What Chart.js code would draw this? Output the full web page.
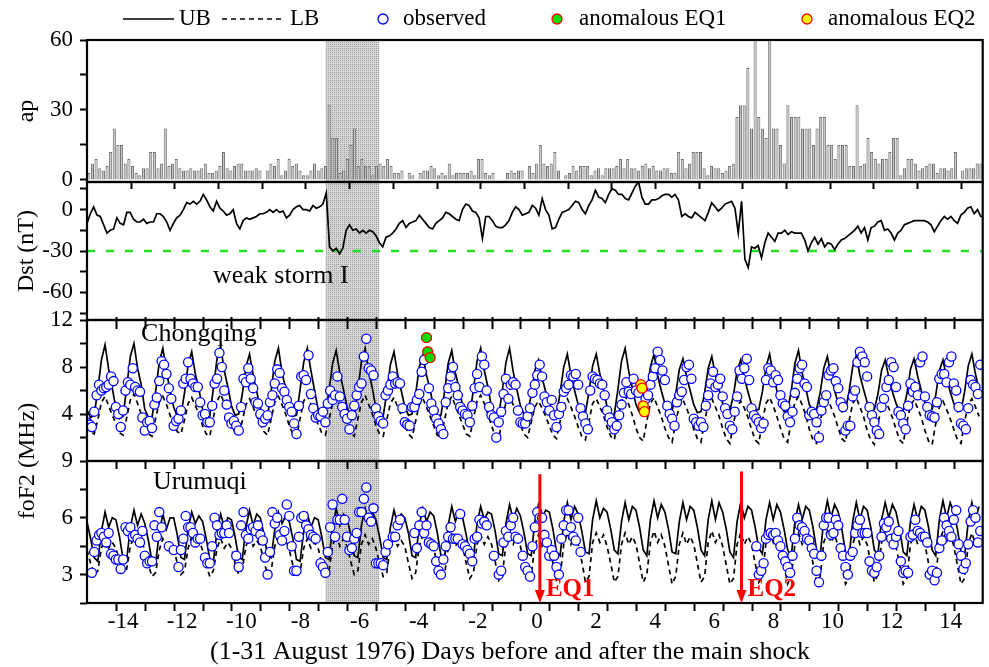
<!DOCTYPE html>
<html>
<head>
<meta charset="utf-8">
<title>foF2 around the 1976 Songpan earthquakes</title>
<script src="https://cdn.jsdelivr.net/npm/chart.js@4.4.1/dist/chart.umd.min.js"></script>
<style>
  html, body { margin: 0; padding: 0; background: #fff; }
  #wrap { width: 989px; height: 667px; }
</style>
</head>
<body>
<div id="wrap"><canvas id="chart" width="989" height="667"></canvas></div>
<script>
const SERIF = "'Liberation Serif', 'Times New Roman', serif";

// time axis: days relative to the main shock
const dayTicks = [-14, -12, -10, -8, -6, -4, -2, 0, 2, 4, 6, 8, 10, 12, 14];
const X_MIN = -15.22, X_MAX = 15.08;
const HOURS = 744; // 1-31 August, hourly index
const stormBand = [-7.15, -5.33];
const quakeDays = [0.1, 6.92];

// ap index, 3-hourly
const apIndex = [
  3,7,9,5,4,6,12,22,15,15, 7,9,6,3,2,5,5,12,12,5, 7,22,6,7,9,5,4,4,5,4,
  4,5,7,3,3,4,6,12,5,4, 6,7,7,4,4,4,5,4,0,4, 7,6,9,2,4,9,6,7,4,2,
  2,4,7,4,5,6,32,18,18,3, 4,9,15,22,6,9,6,6,2,6, 7,6,9,
  6,3,3,4,0,3,2,0,3,4, 4,6,5,2,3,2,7,2,3,3, 3,3,4,2,9,9,3,2,3,0,
  0,0,3,4,3,4,4,0,6,3, 7,15,7,6,7,12,4,0,2,3, 6,4,6,6,6,2,4,5,2,5,
  5,5,6,9,5,9,5,5,4,6, 7,5,6,4,4,5,5,3,3,
  12,9,5,7,12,12,12,5,2,6, 5,5,3,4,6,7,27,32,32,48, 22,67,27,22,18,67,22,22,15,7,
  32,27,27,27,22,22,22,15,22,27, 27,15,15,9,15,15,15,6,6,32, 6,7,18,12,9,7,9,9,12,18,
  18,2,5,9,9,7,4,5,6,7, 7,3,5,5,4,5,12,0,4,5, 5,5,7,7
];

// Dst (nT), one sample every 2.76 h
const DST_STEP_H = 2.76;
const dstNt = [
  -10,-3,2,-4,-5,-11,-17,-15,-14,-6, -10,-11,-2,-2,-7,-9,-9,-7,-10,-9,
  -9,-3,-3,-5,-9,-15,-10,-6,-4,0, 5,4,6,4,6,11,7,2,-1,6,
  1,-1,-4,-3,0,-10,-14,-8,-6,-7, -6,-5,-3,-3,-2,0,-2,0,-2,-1,
  -6,-4,0,2,3,0,0,-1,3,1, 2,4,12,-27,-30,-28,-32,-28,-15,-11,
  -15,-14,-17,-15,-17,-15,-16,-19,-24,-27, -20,
  -19,-17,-14,-10,-8,-13,-10,-9,-8,-4, -7,-10,-13,-14,-10,-8,-6,-2,-3,-5,
  -7,-8,0,4,3,-1,-2,-6,-21,-5, -5,-8,-12,-13,-13,-11,-8,-2,2,0,
  -4,-3,-2,3,1,-4,8,0,-4,-14, -13,-7,-2,-1,0,3,6,5,0,-3,
  3,7,14,9,8,5,11,15,14,11, 11,8,7,12,17,20,9,4,4,7,
  7,8,10,11,11,9,11,7,-5,-3,
  -5,-6,-2,-4,-6,-8,-2,5,2,-1, 1,4,5,6,1,-17,6,-36,-42,-27,
  -28,-26,-35,-24,-17,-20,-23,-17,-17,-15, -18,-16,-17,-17,-17,-22,-30,-24,-20,-25,
  -21,-27,-24,-25,-29,-25,-22,-21,-19,-17, -15,-12,-17,-13,-22,-13,-12,-9,-8,-15,
  -14,-17,-22,-17,-15,-11,-10,-9,-8,-8, -8,-8,-9,-11,-16,-12,-8,-5,-7,-5,
  -8,-10,-4,-2,1,2,-3,0,-5,-5
];
const dstStorm = -30;

// Chongqing foF2 bounds (MHz), 3-hourly: 00 03 06 09 12 15 18 21 h
const cqUpper = [
  4.3,3.7,3.9,6.1,8.6,9.9,7.8,6.2,  4.5,3.6,3.8,6.3,8.9,10.0,7.9,6.5,
  4.4,3.7,3.7,5.9,8.4,9.6,7.6,6.0,  4.6,3.8,3.9,5.8,8.2,9.3,7.4,6.1,
  4.4,3.6,3.8,6.2,8.7,9.8,7.7,6.3,  4.7,3.9,4.0,5.7,8.0,9.1,7.3,5.9,
  4.5,3.7,3.8,6.0,8.5,9.6,7.5,6.2,  4.6,3.8,3.9,6.1,8.4,9.6,7.7,6.0,
  4.4,3.9,4.0,5.9,8.3,9.4,7.5,6.1,  4.6,3.8,3.9,6.0,8.5,9.6,7.6,6.2,
  4.5,3.7,3.8,5.8,8.2,9.3,7.4,6.0,  4.6,3.9,4.0,5.7,8.0,9.0,7.3,6.1,
  4.5,3.8,3.9,5.9,8.3,9.4,7.5,6.2,  4.7,3.9,4.0,6.1,8.5,9.6,7.7,6.3,
  4.6,3.8,3.9,6.0,8.4,9.6,7.6,6.1,  4.7,4.0,4.1,5.6,7.7,8.6,7.1,5.9,
  4.6,3.9,4.0,5.8,8.0,9.1,7.3,6.0,  4.8,4.0,4.1,5.9,8.1,9.1,7.4,6.1,
  4.6,3.9,4.0,6.1,8.5,9.6,7.6,6.2,  4.8,4.1,4.2,5.9,8.0,9.1,7.3,6.0,
  4.9,4.2,4.3,5.7,7.8,8.7,7.2,6.0,  4.8,4.1,4.2,5.8,7.9,8.9,7.3,6.1,
  4.9,4.2,4.3,5.6,7.7,8.6,7.1,5.9,  4.8,4.3,4.4,5.9,8.0,9.1,7.4,6.0,
  4.9,4.2,4.3,6.0,8.3,9.4,7.5,6.2,  4.8,4.3,4.4,5.8,7.9,8.9,7.3,6.0,
  4.9,4.2,4.3,5.9,8.0,9.0,7.3,6.1,  5.0,4.3,4.4,5.7,7.7,8.6,7.1,5.9,
  4.9,4.2,4.3,5.7,7.8,8.7,7.2,6.0,  5.0,4.3,4.4,5.6,7.7,8.6,7.1,5.9,
  4.9,4.2,4.3,5.9,8.1,9.1,7.4,6.1
];
const cqLower = [
  3.0,2.5,2.3,3.5,5.0,5.5,4.7,3.9,  3.2,2.4,2.2,3.7,5.2,5.7,4.9,4.0,
  3.1,2.3,2.1,3.6,5.0,5.5,4.8,3.9,  3.2,2.5,2.3,3.5,4.9,5.4,4.7,4.0,
  3.0,2.3,2.1,3.7,5.1,5.7,4.9,4.1,  3.1,2.4,2.2,3.4,4.8,5.3,4.6,3.8,
  3.2,2.5,2.2,3.6,5.0,5.5,4.8,4.0,  3.0,2.3,2.0,3.6,5.1,5.6,4.8,3.9,
  3.1,2.4,2.2,3.5,4.9,5.4,4.7,3.9,  3.2,2.4,2.1,3.6,5.0,5.6,4.8,4.0,
  3.0,2.3,2.1,3.5,4.9,5.4,4.6,3.9,  3.1,2.3,2.0,3.4,4.8,5.3,4.6,3.8,
  3.0,2.2,2.0,3.5,4.9,5.5,4.7,3.9,  3.1,2.3,2.1,3.6,5.1,5.6,4.9,4.0,
  3.0,2.2,1.9,3.5,5.0,5.5,4.8,3.9,  3.1,2.3,2.0,3.3,4.6,5.1,4.5,3.8,
  3.0,2.2,1.9,3.4,4.8,5.3,4.6,3.8,  2.9,2.1,1.8,3.4,4.9,5.3,4.6,3.9,
  2.9,2.1,1.8,3.6,5.1,5.6,4.8,3.9,  2.8,2.0,1.7,3.4,4.9,5.4,4.6,3.8,
  2.8,2.0,1.6,3.3,4.7,5.2,4.5,3.7,  2.7,1.9,1.6,3.4,4.8,5.3,4.6,3.8,
  2.8,1.9,1.5,3.2,4.6,5.1,4.5,3.7,  2.7,1.8,1.5,3.4,4.9,5.4,4.7,3.8,
  2.8,1.9,1.6,3.5,5.0,5.5,4.8,3.9,  2.7,1.8,1.5,3.3,4.8,5.3,4.6,3.8,
  2.8,1.9,1.6,3.4,4.9,5.4,4.6,3.8,  2.6,1.8,1.4,3.2,4.6,5.1,4.5,3.7,
  2.7,1.8,1.5,3.3,4.7,5.2,4.5,3.7,  2.6,1.7,1.4,3.2,4.6,5.1,4.4,3.6,
  2.7,1.8,1.5,3.4,4.8,5.3,4.6,3.8
];
// Chongqing observed foF2 (MHz), 2-hourly
const cqObserved = [
  3.3,3.1,2.9,4.2,5.6,6.5,6.0,6.2,6.3,6.5,7.2,6.8,
  4.6,4.0,2.9,4.3,6.0,6.7,6.5,7.9,6.3,6.0,5.9,3.7,
  2.6,3.3,3.4,2.8,4.8,5.4,6.8,8.5,8.2,7.4,6.2,5.3,
  3.0,3.4,3.6,4.3,6.6,7.0,8.4,7.0,6.6,6.3,6.3,5.0,
  3.9,4.0,3.3,3.3,4.7,6.6,7.0,9.2,8.0,6.0,4.8,3.7,
  3.2,3.4,3.0,2.6,4.6,7.0,6.7,7.9,7.0,6.2,5.0,4.9,
  4.0,3.3,3.6,3.9,5.0,5.6,6.6,7.8,7.5,6.2,5.9,5.2,
  4.6,4.2,3.2,2.3,4.7,7.2,7.3,6.9,9.0,5.7,4.5,3.7,
  3.9,3.8,4.2,3.3,4.9,6.0,5.2,5.6,7.2,5.5,4.6,4.0,
  3.6,2.7,3.9,4.7,5.6,6.3,6.6,8.9,10.4,7.9,7.7,7.3,
  4.5,3.8,3.4,3.2,5.6,6.0,6.5,7.2,6.6,6.7,6.6,4.5,
  3.3,3.1,3.0,4.6,4.6,5.2,5.7,7.6,8.6,10.5,6.2,4.9,
  4.3,3.6,3.2,2.7,2.3,5.0,6.2,7.2,8.0,6.3,5.6,4.6,
  4.3,4.0,3.9,3.3,4.7,6.2,7.4,6.3,8.9,8.2,6.0,4.6,
  3.9,3.7,2.0,3.3,4.2,5.7,7.0,5.3,6.5,6.7,6.5,4.3,
  3.3,3.2,3.2,3.8,4.5,5.8,6.5,7.3,8.2,7.2,5.5,5.0,
  4.3,5.2,3.9,2.9,4.0,4.6,5.9,6.2,6.5,7.3,7.2,7.4,
  6.5,4.5,3.8,3.2,2.7,6.0,7.2,7.0,6.9,6.6,6.5,5.6,
  4.3,3.7,3.3,2.7,3.0,3.9,4.8,5.8,6.7,5.9,5.7,7.0,
  6.0,5.8,6.5,4.7,5.3,5.6,6.5,7.2,7.9,9.3,8.6,7.7,
  6.9,4.7,4.0,3.6,3.0,5.0,5.6,5.9,6.9,8.0,8.2,7.0,
  3.6,3.3,3.0,3.3,2.9,4.7,5.6,6.6,7.6,6.3,6.5,7.0,
  5.5,4.5,4.0,3.0,2.7,4.2,5.5,7.7,7.0,7.9,8.7,6.9,
  4.5,3.9,3.6,3.3,2.8,3.2,6.9,7.9,7.7,6.7,7.3,6.9,
  5.6,4.9,4.7,3.8,3.3,4.2,5.8,7.0,7.9,8.2,6.6,6.3,
  3.9,4.2,4.0,3.3,2.0,4.3,5.0,5.6,7.3,7.7,7.9,6.8,
  6.2,5.0,4.6,2.6,3.0,3.0,5.5,6.0,8.4,9.3,8.9,8.4,
  7.2,4.6,3.9,3.3,2.6,2.3,4.6,5.3,6.3,6.9,8.4,8.0,
  6.3,4.2,3.9,3.2,2.7,4.7,6.6,5.9,6.3,5.6,8.4,8.9,
  5.5,4.6,3.9,3.8,3.7,5.0,7.0,7.4,7.4,6.7,8.4,8.9,
  6.6,6.0,4.6,3.2,3.0,2.7,4.5,6.9,6.5,6.3,5.7,8.2
];
// Chongqing values flagged as anomalous before each shock (hour index, MHz)
const eq1Hours = [282, 283, 285], eq1Values = [10.5, 9.3, 8.8];
const eq2Hours = [460, 461, 462, 463], eq2Values = [6.5, 6.2, 4.7, 4.2];

// Urumuqi foF2 bounds (MHz), 3-hourly
const urUpper = [
  5.8,4.9,3.9,3.7,5.3,6.3,5.5,6.0,  5.9,5.0,3.8,3.8,5.5,6.4,5.6,6.2,
  5.7,4.8,3.7,3.6,5.2,6.2,5.4,6.0,  6.0,5.1,3.9,3.8,5.4,6.3,5.7,6.1,
  5.8,4.9,3.8,3.7,5.3,6.2,5.5,6.0,  5.9,5.0,3.9,3.8,5.5,6.4,5.6,6.2,
  6.0,5.1,4.0,3.9,5.4,6.3,5.7,6.1,  5.8,4.9,3.8,3.7,5.3,6.2,5.5,6.0,
  5.9,5.0,3.9,3.8,5.5,6.5,5.6,6.2,  6.0,5.1,4.0,3.9,5.6,6.5,5.8,6.3,
  5.9,5.0,3.9,3.8,5.5,6.4,5.7,6.2,  6.0,5.2,4.0,3.9,5.6,6.5,5.8,6.3,
  6.1,5.2,4.0,3.9,5.6,6.6,5.8,6.4,  6.0,5.1,4.0,3.9,5.7,6.6,5.9,6.3,
  6.2,5.3,4.1,4.0,5.7,6.7,5.9,6.5,  6.1,5.2,4.1,4.0,5.8,6.7,6.0,6.4,
  6.3,5.4,4.2,4.0,5.8,6.8,5.9,6.6,  6.2,5.3,4.2,4.1,5.9,6.9,6.0,6.5,
  6.3,5.4,4.3,4.1,5.8,6.8,5.9,6.6,  6.4,5.5,4.3,4.0,5.9,6.9,6.0,6.7,
  6.3,5.4,4.2,4.1,5.8,6.8,5.9,6.6,  6.4,5.5,4.3,4.0,5.9,6.9,5.9,6.8,
  6.3,5.4,4.2,3.9,5.8,6.8,6.0,6.6,  6.4,5.5,4.4,4.1,5.9,6.8,5.9,6.7,
  6.3,5.4,4.3,4.0,5.8,6.7,5.9,6.6,  6.4,5.5,4.3,4.0,5.9,6.9,6.0,6.7,
  6.3,5.4,4.2,3.9,5.8,6.8,5.9,6.6,  6.4,5.5,4.3,4.1,5.9,6.8,6.0,6.7,
  6.3,5.4,4.2,4.0,5.8,6.7,5.9,6.6,  6.4,5.5,4.3,4.0,5.9,6.9,6.0,6.8,
  6.3,5.4,4.2,4.0,5.8,6.8,5.9,6.6
];
const urLower = [
  4.3,3.6,3.0,3.2,4.4,4.9,4.4,4.7,  4.4,3.7,3.1,3.3,4.5,5.0,4.5,4.8,
  4.3,3.5,2.9,3.1,4.3,4.9,4.4,4.7,  4.4,3.6,3.0,3.2,4.4,5.0,4.5,4.8,
  4.3,3.5,2.9,3.2,4.4,4.9,4.4,4.7,  4.4,3.6,3.0,3.3,4.5,5.0,4.5,4.8,
  4.5,3.7,3.0,3.2,4.5,5.1,4.6,4.9,  4.3,3.5,2.9,3.1,4.4,4.9,4.4,4.7,
  4.4,3.6,2.9,3.2,4.5,5.1,4.5,4.9,  4.5,3.7,3.0,3.2,4.6,5.1,4.6,4.9,
  4.4,3.6,2.9,3.1,4.5,5.0,4.5,4.8,  4.5,3.6,2.8,3.1,4.5,5.1,4.6,4.9,
  4.4,3.5,2.8,3.0,4.4,5.0,4.5,4.8,  4.5,3.6,2.8,3.1,4.6,5.1,4.6,5.0,
  4.6,3.7,2.7,3.0,4.6,5.2,4.6,5.0,  4.5,3.6,2.7,3.0,4.5,5.1,4.5,4.9,
  4.6,3.6,2.7,2.9,4.6,5.2,4.6,5.1,  4.6,3.7,2.6,2.9,4.7,5.2,4.7,5.1,
  4.5,3.6,2.6,2.9,4.6,5.2,4.6,5.0,  4.6,3.6,2.6,3.0,4.7,5.3,4.7,5.1,
  4.5,3.5,2.5,2.9,4.6,5.2,4.6,5.0,  4.6,3.6,2.6,2.9,4.7,5.3,4.7,5.1,
  4.5,3.5,2.5,2.8,4.6,5.2,4.6,5.0,  4.6,3.6,2.6,2.9,4.7,5.3,4.7,5.2,
  4.5,3.5,2.5,2.9,4.6,5.2,4.6,5.0,  4.6,3.6,2.6,2.9,4.7,5.3,4.7,5.1,
  4.5,3.5,2.5,2.8,4.6,5.2,4.6,5.0,  4.6,3.6,2.6,3.0,4.7,5.3,4.7,5.1,
  4.5,3.5,2.5,2.8,4.6,5.2,4.6,5.0,  4.6,3.6,2.6,2.9,4.7,5.3,4.7,5.2,
  4.5,3.5,2.5,2.8,4.6,5.2,4.6,5.0
];
// Urumuqi observed foF2 (MHz), 2-hourly, null where no sounding
const urObserved = [
  null,null,3.1,4.2,4.8,5.1,5.2,5.0,4.7,5.2,4.1,4.0,
  3.8,3.8,3.3,3.8,5.5,5.3,5.5,5.0,5.1,4.9,4.7,5.3,
  4.0,3.6,3.7,3.7,5.6,5.0,6.3,5.5,null,null,4.5,null,
  4.3,null,3.4,4.3,4.9,6.1,5.5,5.5,5.2,4.7,4.9,4.9,
  null,3.9,3.6,3.6,4.5,6.0,5.6,5.1,5.2,5.2,5.6,5.2,
  null,null,4.0,3.4,5.6,6.3,5.1,4.9,5.4,5.5,5.3,5.6,
  5.1,4.8,3.9,3.0,4.2,6.3,5.7,6.0,5.1,4.8,5.3,6.7,
  6.1,4.5,3.2,3.2,5.0,6.0,6.1,5.6,5.4,5.1,5.0,4.9,
  null,3.6,3.4,3.1,4.2,5.5,6.7,5.0,5.9,5.9,7.0,5.9,
  5.0,4.3,4.4,4.9,5.2,6.3,6.3,7.0,7.6,6.0,5.8,6.5,
  3.6,3.6,3.6,3.5,4.2,4.6,null,5.0,5.0,5.6,5.9,null,
  null,null,null,null,5.2,4.4,5.6,6.3,5.2,5.6,4.7,4.6,
  4.5,3.7,3.2,3.0,3.8,4.5,5.0,5.5,4.9,4.9,4.9,6.2,
  4.6,4.5,4.3,4.1,3.7,4.9,5.0,5.9,5.7,5.8,5.6,null,
  null,4.0,null,3.0,3.2,4.7,5.3,5.0,5.6,6.0,5.0,4.9,
  null,4.0,3.4,3.2,2.9,4.5,5.5,6.3,6.0,6.0,5.1,4.7,
  4.0,4.3,4.0,3.4,3.0,4.9,5.6,6.4,6.4,5.5,5.0,4.8,
  6.0,4.2,null,null,null,null,null,null,null,null,null,null,
  null,null,null,null,null,null,null,null,null,null,null,null,
  null,null,null,null,null,null,null,null,null,null,null,null,
  null,null,null,null,null,null,null,null,null,null,null,null,
  null,null,null,null,null,null,null,null,null,null,null,null,
  null,null,null,null,null,null,null,null,null,null,null,null,
  null,null,4.5,3.0,3.2,3.6,4.9,5.1,5.2,5.1,5.2,4.8,
  4.5,4.0,3.7,3.4,3.1,4.0,4.9,6.0,5.6,5.5,5.3,4.9,
  4.8,4.4,4.1,3.2,2.6,4.0,5.6,6.0,6.0,5.1,5.2,5.9,
  5.6,4.4,4.0,3.4,3.0,4.0,4.2,5.2,5.6,5.9,5.2,5.2,
  5.2,3.7,3.2,3.1,3.4,4.0,5.0,5.7,5.5,5.8,4.9,4.6,
  5.0,5.3,3.7,3.1,3.2,3.1,5.0,5.1,5.9,5.3,5.2,5.0,
  5.0,4.7,3.0,3.2,2.7,3.1,4.4,4.8,6.0,5.6,5.3,5.0,
  5.9,6.4,4.6,4.0,3.3,3.6,4.6,5.8,6.4,6.0,4.7,5.3
];

// ---------------------------------------------------------------------------

const hourToDay = h => X_MIN + h * (X_MAX - X_MIN) / HOURS;
const onGrid = (values, stepH, startH = 0) =>
  values.map((v, i) => ({ x: hourToDay(startH + i * stepH), y: v }));
const atHours = (hours, values) => hours.map((h, i) => ({ x: hourToDay(h), y: values[i] }));

const AP_STEP_H = HOURS / apIndex.length;

const lineStyle = (color, dash) => ({
  type: 'line', borderColor: color, borderWidth: 1.7, borderDash: dash || [],
  pointRadius: 0, tension: 0, fill: false
});
const circleStyle = (stroke, fillColor, r) => ({
  type: 'line', showLine: false, pointRadius: r, pointBorderColor: stroke,
  pointBackgroundColor: fillColor, pointBorderWidth: 1.3
});

function panelAxis(opts) {
  const { min, max, ticks, labelled, weight, stackWeight, title } = opts;
  return {
    type: 'linear', position: 'left', stack: 'panels', stackWeight, weight,
    min, max,
    afterBuildTicks: s => { s.ticks = ticks.map(v => ({ value: v })); },
    afterFit: s => { s.width = 87; },
    grid: { drawOnChartArea: false, drawTicks: true, tickLength: 7, tickWidth: 2, tickColor: '#000' },
    border: { display: false },
    ticks: {
      color: '#000', padding: 7, autoSkip: false, font: { family: SERIF, size: 23 },
      callback: v => labelled.includes(v) ? String(v) : ''
    },
    title: title ? {
      display: true, text: title, color: '#000',
      font: { family: SERIF, size: 24 }, padding: { top: 12 }
    } : { display: false }
  };
}

// stipple used for the storm interval
function dotPattern(ctx) {
  const tile = document.createElement('canvas');
  tile.width = 2; tile.height = 2;
  const t = tile.getContext('2d');
  t.fillStyle = '#d6d6d6';
  t.fillRect(0, 0, 2, 2);
  t.fillStyle = '#9c9c9c';
  t.fillRect(0, 0, 1, 1);
  return ctx.createPattern(tile, 'repeat');
}

const decorations = {
  id: 'decorations',
  beforeDatasetsDraw(chart) {
    const { ctx, chartArea, scales } = chart;
    const x0 = scales.x.getPixelForValue(stormBand[0]);
    const x1 = scales.x.getPixelForValue(stormBand[1]);
    ctx.save();
    ctx.fillStyle = dotPattern(ctx);
    ctx.fillRect(x0, chartArea.top, x1 - x0, chartArea.bottom - chartArea.top);
    ctx.restore();
  },
  afterDatasetsDraw(chart) {
    const { ctx, chartArea, scales } = chart;
    const { x, yAp, yDst, yCq, yUr } = scales;
    const L = chartArea.left, R = chartArea.right;
    ctx.save();

    // panel frames
    ctx.strokeStyle = '#000';
    ctx.lineWidth = 2.2;
    [yAp, yDst, yCq, yUr].forEach(s => ctx.strokeRect(L, s.top, R - L, s.bottom - s.top));

    // tick marks along the panel edges
    ctx.lineWidth = 2;
    const tickRow = (values, y, len) => {
      ctx.beginPath();
      values.forEach(v => {
        const px = Math.round(x.getPixelForValue(v)) + 0.5;
        if (px <= L + 1 || px >= R - 1) return;
        ctx.moveTo(px, y);
        ctx.lineTo(px, y + len);
      });
      ctx.stroke();
    };
    const apMarks = [], midnights = [];
    for (let i = 12; i < apIndex.length; i += 12) apMarks.push(hourToDay(i * AP_STEP_H));
    for (let h = 24; h < HOURS; h += 24) midnights.push(hourToDay(h));
    tickRow(apMarks, yAp.bottom, 7);
    tickRow(midnights, yDst.bottom, -3);
    tickRow(midnights, yCq.top, 9);
    tickRow(midnights, yUr.top, 8);
    tickRow(midnights, yUr.bottom, 8);

    // earthquake arrows
    ctx.strokeStyle = '#ff0000';
    ctx.fillStyle = '#ff0000';
    ctx.lineWidth = 3;
    quakeDays.forEach((d, i) => {
      const px = x.getPixelForValue(d);
      const top = yUr.getPixelForValue(i === 0 ? 8.3 : 8.45);
      const bot = yUr.bottom;
      ctx.beginPath();
      ctx.moveTo(px, top);
      ctx.lineTo(px, bot - 10);
      ctx.stroke();
      ctx.beginPath();
      ctx.moveTo(px - 5, bot - 13);
      ctx.lineTo(px + 5, bot - 13);
      ctx.lineTo(px, bot);
      ctx.closePath();
      ctx.fill();
      ctx.font = 'bold 25px ' + SERIF;
      ctx.textBaseline = 'middle';
      ctx.fillText('EQ' + (i + 1), px + 6, yUr.getPixelForValue(2.2));
    });

    // panel annotations
    ctx.fillStyle = '#000';
    ctx.font = '26px ' + SERIF;
    ctx.textBaseline = 'middle';
    ctx.fillText('weak storm I', x.getPixelForValue(-10.96), yDst.getPixelForValue(-48));
    ctx.fillText('Chongqing', x.getPixelForValue(-13.39), yCq.getPixelForValue(10.8));
    ctx.fillText('Urumuqi', x.getPixelForValue(-12.99), yUr.getPixelForValue(7.9));

    // shared axis title for both foF2 panels
    ctx.save();
    ctx.translate(28, yCq.bottom);
    ctx.rotate(-Math.PI / 2);
    ctx.textAlign = 'center';
    ctx.font = '24px ' + SERIF;
    ctx.fillText('foF2 (MHz)', 0, 0);
    ctx.restore();

    // time axis title
    ctx.textAlign = 'center';
    ctx.font = '26px ' + SERIF;
    ctx.fillText('(1-31 August 1976) Days before and after the main shock', 510, 652);

    ctx.restore();
  },
  afterDraw(chart) {
    // legend row
    const { ctx } = chart;
    const y = 19;
    ctx.save();
    ctx.strokeStyle = '#000';
    ctx.lineWidth = 1.7;
    ctx.beginPath(); ctx.moveTo(123, y); ctx.lineTo(174, y); ctx.stroke();
    ctx.setLineDash([5, 4]);
    ctx.beginPath(); ctx.moveTo(222, y); ctx.lineTo(282, y); ctx.stroke();
    ctx.setLineDash([]);
    const dot = (cx, stroke, fillColor) => {
      ctx.beginPath();
      ctx.arc(cx, y, 5, 0, Math.PI * 2);
      ctx.fillStyle = fillColor; ctx.fill();
      ctx.lineWidth = 1.3; ctx.strokeStyle = stroke; ctx.stroke();
    };
    dot(383, '#0000ff', '#ffffff');
    dot(557, '#ff0000', '#00dd00');
    dot(807, '#ff0000', '#ffff00');
    ctx.fillStyle = '#000';
    ctx.font = '23px ' + SERIF;
    ctx.textBaseline = 'middle';
    ctx.fillText('UB', 179, y);
    ctx.fillText('LB', 290, y);
    ctx.fillText('observed', 403, y);
    ctx.fillText('anomalous EQ1', 579, y);
    ctx.fillText('anomalous EQ2', 828, y);
    ctx.restore();
  }
};

new Chart(document.getElementById('chart'), {
  type: 'line',
  data: {
    datasets: [
      { ...circleStyle('#ff0000', '#00dd00', 5), yAxisID: 'yCq', order: 0, data: atHours(eq1Hours, eq1Values) },
      { ...circleStyle('#ff0000', '#ffff00', 5), yAxisID: 'yCq', order: 0, data: atHours(eq2Hours, eq2Values) },
      { ...circleStyle('#0000ff', '#ffffff', 4.6), yAxisID: 'yCq', order: 1, data: onGrid(cqObserved, 2) },
      { ...circleStyle('#0000ff', '#ffffff', 4.6), yAxisID: 'yUr', order: 1, data: onGrid(urObserved, 2) },
      { ...lineStyle('#000'), yAxisID: 'yCq', order: 2, data: onGrid(cqUpper, 3) },
      { ...lineStyle('#000', [5, 4]), yAxisID: 'yCq', order: 2, data: onGrid(cqLower, 3) },
      { ...lineStyle('#000'), yAxisID: 'yUr', order: 2, data: onGrid(urUpper, 3) },
      { ...lineStyle('#000', [5, 4]), yAxisID: 'yUr', order: 2, data: onGrid(urLower, 3) },
      { ...lineStyle('#000'), yAxisID: 'yDst', order: 2, data: onGrid(dstNt, DST_STEP_H) },
      { ...lineStyle('#22e022', [8, 11]), borderWidth: 2.4, yAxisID: 'yDst', order: 3,
        data: [{ x: X_MIN, y: dstStorm }, { x: X_MAX, y: dstStorm }] },
      { type: 'bar', yAxisID: 'yAp', order: 4, data: onGrid(apIndex, AP_STEP_H, AP_STEP_H / 2),
        backgroundColor: '#c6c6c6', borderColor: '#6c6c6c', borderWidth: 1,
        barPercentage: 1, categoryPercentage: 0.85 }
    ]
  },
  options: {
    responsive: false,
    animation: false,
    devicePixelRatio: 1,
    layout: { padding: { left: 0, right: 4, top: 40, bottom: 0 } },
    plugins: { legend: { display: false }, tooltip: { enabled: false } },
    scales: {
      x: {
        type: 'linear', min: X_MIN, max: X_MAX, offset: false,
        afterBuildTicks: s => { s.ticks = dayTicks.map(v => ({ value: v })); },
        afterFit: s => { s.height = 64; },
        grid: { display: false, drawTicks: false, offset: false },
        border: { display: false },
        ticks: {
          color: '#000', padding: 5, maxRotation: 0, autoSkip: false,
          font: { family: SERIF, size: 23 }, callback: v => String(v)
        },
        title: { display: false }
      },
      yUr: panelAxis({ min: 1.5, max: 9, ticks: [1.5, 3, 4.5, 6, 7.5, 9], labelled: [3, 6, 9], weight: 1, stackWeight: 142 }),
      yCq: panelAxis({ min: 0, max: 12, ticks: [2, 4, 6, 8, 10, 12], labelled: [4, 8, 12], weight: 2, stackWeight: 141 }),
      yDst: panelAxis({ min: -80, max: 20, ticks: [-75, -60, -45, -30, -15, 0, 15], labelled: [-60, -30, 0], weight: 3, stackWeight: 138, title: 'Dst (nT)' }),
      yAp: panelAxis({ min: -0.9, max: 60, ticks: [0, 15, 30, 45, 60], labelled: [0, 30, 60], weight: 4, stackWeight: 142, title: 'ap' })
    }
  },
  plugins: [decorations]
});
</script>
</body>
</html>
